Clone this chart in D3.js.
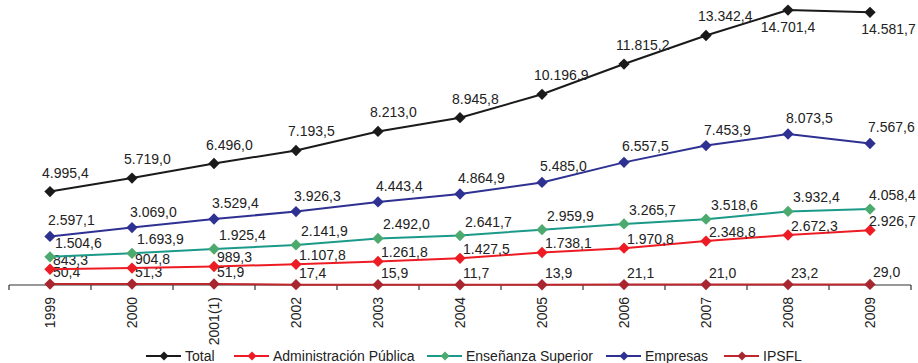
<!DOCTYPE html>
<html>
<head>
<meta charset="utf-8">
<script src="https://cdn.jsdelivr.net/npm/d3@7"></script>
<style>
body{margin:0;background:#fff;}
text{font-family:"Liberation Sans",Arial,sans-serif;fill:#222;}
</style>
</head>
<body>
<div id="chart"></div>
<script>
var years=["1999","2000","2001(1)","2002","2003","2004","2005","2006","2007","2008","2009"];
var total=[4995.4,5719.0,6496.0,7193.5,8213.0,8945.8,10196.9,11815.2,13342.4,14701.4,14581.7];
var empresas=[2597.1,3069.0,3529.4,3926.3,4443.4,4864.9,5485.0,6557.5,7453.9,8073.5,7567.6];
var ensenanza=[1504.6,1693.9,1925.4,2141.9,2492.0,2641.7,2959.9,3265.7,3518.6,3932.4,4058.4];
var admin=[843.3,904.8,989.3,1107.8,1261.8,1427.5,1738.1,1970.8,2348.8,2672.3,2926.7];
var ipsfl=[50.4,51.3,51.9,17.4,15.9,11.7,13.9,21.1,21.0,23.2,29.0];
var seriesNames=["Total","Administración Pública","Enseñanza Superior","Empresas","IPSFL"];

var W=918,H=363;
var axisY=285;
var svg=d3.select("#chart").append("svg").attr("width",W).attr("height",H);

var x=d3.scaleBand().domain(years).range([9,911]);
var y=d3.scaleLinear().domain([0,15240]).range([axisY,0]);
var fmt=function(v){
	var s=d3.format(",.1f")(v);
	return s.replace(/,/g,"#").replace(".",",").replace(/#/g,".");
};

// series drawn back to front; label offsets per series
var series=[
	{name:"IPSFL",vals:ipsfl,line:"#c0272d",mark:"#a8262f",dx:3,dy:-7},
	{name:"Administración Pública",vals:admin,line:"#ed1c24",mark:"#ed1c24",dx:3,dy:-4},
	{name:"Enseñanza Superior",vals:ensenanza,line:"#1b9a8a",mark:"#4caa6e",dx:5,dy:-9},
	{name:"Empresas",vals:empresas,line:"#2e3192",mark:"#2e3192",dx:-2,dy:-11},
	{name:"Total",vals:total,line:"#1a1a1a",mark:"#1a1a1a",dx:-8,dy:-14}
];

// x axis
var ax=svg.append("g").attr("transform","translate(0,"+axisY+")");
ax.append("line").attr("x1",9).attr("x2",911).attr("stroke","#333").attr("stroke-width",1.2);
var bounds=d3.range(years.length+1).map(function(i){return 9+i*x.step();});
ax.selectAll("line.tick").data(bounds).enter().append("line")
	.attr("class","tick").attr("x1",function(d){return d;}).attr("x2",function(d){return d;})
	.attr("y1",0).attr("y2",5).attr("stroke","#333").attr("stroke-width",1.2);
ax.selectAll("text").data(years).enter().append("text")
	.attr("transform",function(d){return "translate("+(x(d)+x.bandwidth()/2+5)+",12) rotate(-90)";})
	.attr("text-anchor","end").attr("font-size",14)
	.text(function(d){return d;});

var line=d3.line()
	.x(function(d,i){return x(years[i])+x.bandwidth()/2;})
	.y(function(d){return y(d);});
var diamond=d3.symbol().type(d3.symbolSquare).size(64);

series.forEach(function(s){
	var g=svg.append("g");
	g.append("path").datum(s.vals).attr("d",line)
		.attr("fill","none").attr("stroke",s.line).attr("stroke-width",2);
	g.selectAll("path.m").data(s.vals).enter().append("path").attr("class","m")
		.attr("d",diamond).attr("fill",s.mark)
		.attr("transform",function(d,i){return "translate("+(x(years[i])+x.bandwidth()/2)+","+y(d)+") rotate(45)";});
	g.selectAll("text").data(s.vals).enter().append("text")
		.attr("font-size",14)
		.attr("text-anchor",function(d,i){return (s.name=="Total"&&i>=9)?"middle":"start";})
		.attr("x",function(d,i){
			var cx=x(years[i])+x.bandwidth()/2;
			if(s.name=="Total"&&i==9) return cx;
			if(s.name=="Total"&&i==10) return cx+19;
			return cx+s.dx;
		})
		.attr("y",function(d,i){
			if(s.name=="Total"&&i>=9) return y(d)+22;
			return y(d)+s.dy;
		})
		.text(function(d){return fmt(d);})
		.each(function(){
			// keep labels inside the right edge
			var b=this.getBBox();
			if(b.x+b.width>916) d3.select(this).attr("x",+d3.select(this).attr("x")-(b.x+b.width-916));
		});
});

// legend
var legX=[146,234,427,606,724];
var legColors={"Total":["#1a1a1a","#1a1a1a"],"Administración Pública":["#ed1c24","#ed1c24"],
	"Enseñanza Superior":["#1b9a8a","#4caa6e"],"Empresas":["#2e3192","#2e3192"],"IPSFL":["#c0272d","#a8262f"]};
var leg=svg.selectAll("g.leg").data(seriesNames).enter().append("g").attr("class","leg")
	.attr("transform",function(d,i){return "translate("+legX[i]+",356)";});
leg.append("line").attr("x1",0).attr("x2",35)
	.attr("stroke",function(d){return legColors[d][0];}).attr("stroke-width",2);
leg.append("path").attr("d",d3.symbol().type(d3.symbolSquare).size(40))
	.attr("transform","translate(18,0) rotate(45)")
	.attr("fill",function(d){return legColors[d][1];});
leg.append("text").attr("x",39).attr("y",5).attr("font-size",14)
	.text(function(d){return d;});
</script>
</body>
</html>
